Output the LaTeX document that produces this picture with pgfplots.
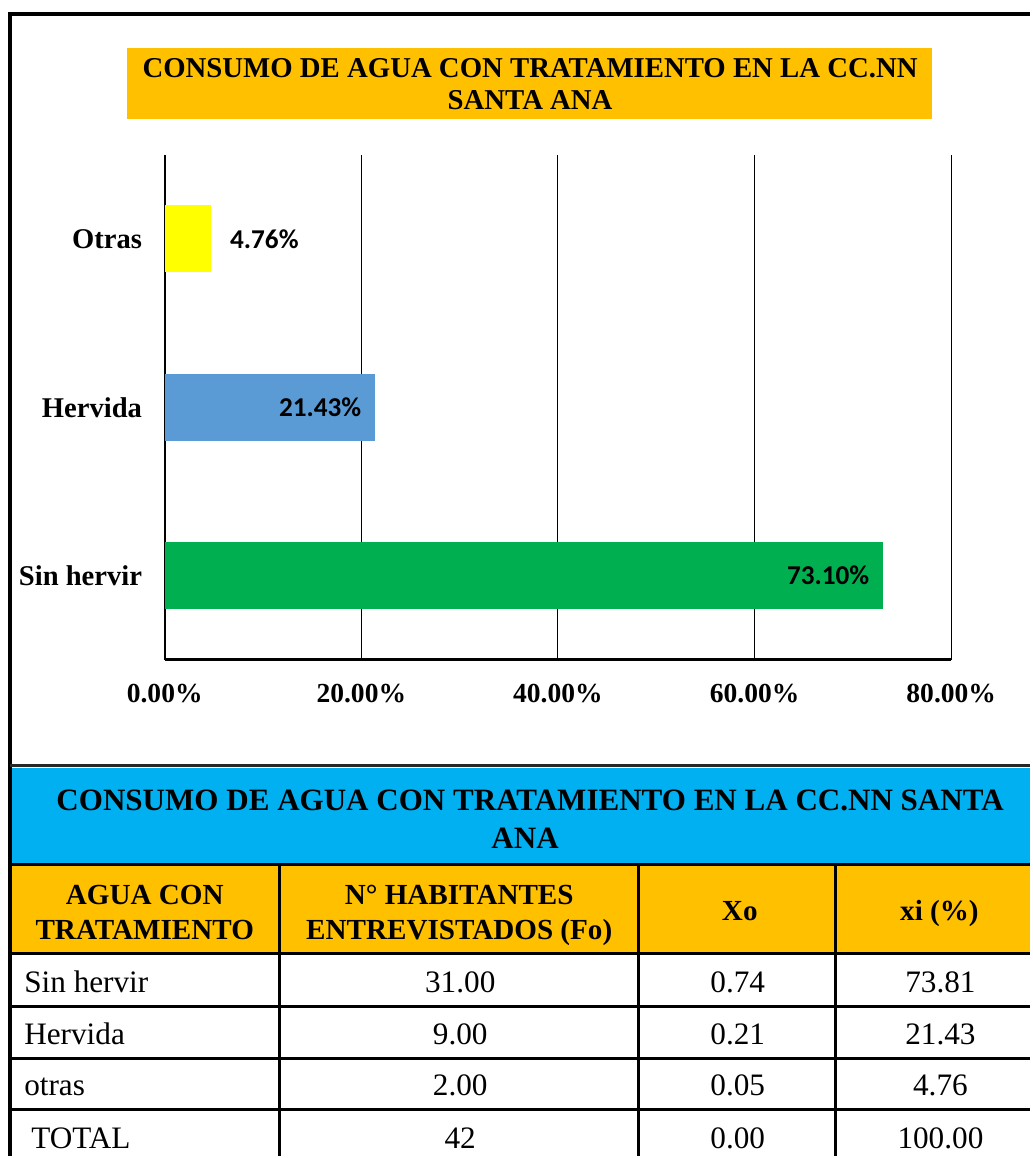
\documentclass[border=0pt]{standalone}
\usepackage{pgfplots}
\pgfplotsset{compat=1.18}
\usepackage{fontspec}
\setmainfont{Liberation Serif}
\newfontfamily\calibri{Carlito}
\definecolor{orng}{HTML}{FFC000}
\definecolor{cyanh}{HTML}{00B0F0}
\definecolor{yel}{HTML}{FFFF00}
\definecolor{blu}{HTML}{5B9BD5}
\definecolor{grn}{HTML}{00B050}
\begin{document}
\begin{tikzpicture}
\begin{scope}[x=0.02cm,y=-0.02cm]
\useasboundingbox (0,0) rectangle (1032,1158);
% chart title
\fill[orng] (127,48) rectangle (934,119);
\node[anchor=base,inner sep=0,font=\bfseries\fontsize{16.4}{18}\selectfont] at (531,78) {CONSUMO DE AGUA CON TRATAMIENTO EN LA CC.NN};
\node[anchor=base,inner sep=0,font=\bfseries\fontsize{16.4}{18}\selectfont] at (531,110) {SANTA ANA};
% table backgrounds
\fill[cyanh] (10,769) rectangle (1032,866);
\fill[orng] (10,866) rectangle (1032,955);
% table lines
\draw[line width=1.5pt] (10,866) -- (1032,866);
\foreach \yy in {955,1008,1060,1111} {\draw[line width=1.7pt] (10,\yy) -- (1032,\yy);}
\foreach \xx in {280,640,837} {\draw[line width=1.7pt] (\xx,866) -- (\xx,1158);}
% table texts
\node[anchor=base,inner sep=0,font=\bfseries\fontsize{17.7}{19}\selectfont] at (531,812) {CONSUMO DE AGUA CON TRATAMIENTO EN LA CC.NN SANTA};
\node[anchor=base,inner sep=0,font=\bfseries\fontsize{17.7}{19}\selectfont] at (526,850) {ANA};
\begin{scope}[every node/.style={anchor=base,inner sep=0,font=\bfseries\fontsize{16.6}{18}\selectfont}]
\node at (145,906) {AGUA CON};
\node at (145,941) {TRATAMIENTO};
\node at (460,906) {N° HABITANTES};
\node at (460,941) {ENTREVISTADOS (Fo)};
\node at (741,922) {Xo};
\node at (941,922) {xi (\%)};
\end{scope}
\begin{scope}[every node/.style={anchor=base,inner sep=0,font=\fontsize{17.8}{19}\selectfont}]
\node[anchor=base west] at (24,994) {Sin hervir};
\node[anchor=base west] at (24,1046) {Hervida};
\node[anchor=base west] at (24,1097) {otras};
\node[anchor=base west] at (31,1150) {TOTAL};
\node at (461,994) {31.00};
\node at (461,1046) {9.00};
\node at (461,1097) {2.00};
\node at (461,1150) {42};
\node at (739,994) {0.74};
\node at (739,1046) {0.21};
\node at (739,1097) {0.05};
\node at (739,1150) {0.00};
\node at (942,994) {73.81};
\node at (942,1046) {21.43};
\node at (942,1097) {4.76};
\node at (942,1150) {100.00};
\end{scope}
\end{scope}
\begin{axis}[
 at={(3.3cm,-13.22cm)}, anchor=south west,
 scale only axis, width=15.76cm, height=10.12cm,
 xbar, bar width=1.34cm, bar shift=0pt,
 xmin=0, xmax=80, ymin=-0.5, ymax=2.5,
 axis x line=bottom, axis y line=left, axis line style={-},
 x axis line style={line width=1.6pt},
 y axis line style={line width=1.1pt},
 xmajorgrids, grid style={black, line width=0.6pt},
 xtick={0,20,40,60,80}, xticklabels={0.00\%,20.00\%,40.00\%,60.00\%,80.00\%},
 ytick={0,1,2}, yticklabels={Sin hervir,Hervida,Otras},
 major tick length=0pt,
 xticklabel style={font=\bfseries\fontsize{15.7}{17}\selectfont, yshift=-0.36cm},
 yticklabel style={font=\bfseries\fontsize{16.3}{18}\selectfont, xshift=-0.33cm},
 point meta=x,
 nodes near coords={\pgfmathprintnumber[fixed,zerofill,precision=2,assume math mode=true]{\pgfplotspointmeta}\%},
 nodes near coords style={font=\calibri\bfseries\fontsize{15.5}{17}\selectfont, black},
 clip=false,
]
\addplot[fill=grn, draw=none, nodes near coords style={anchor=east, xshift=-0.16cm}] coordinates {(73.10,0)};
\addplot[fill=blu, draw=none, nodes near coords style={anchor=east, xshift=-0.16cm}] coordinates {(21.43,1)};
\addplot[fill=yel, draw=none, nodes near coords style={anchor=west, xshift=0.25cm}] coordinates {(4.76,2)};
\end{axis}
\begin{scope}[x=0.02cm,y=-0.02cm]
% outer frame
\draw[line width=2.2pt] (8,14) -- (1032,14);
\draw[line width=2.2pt] (10,12) -- (10,1158);
\draw[line width=1.7pt, black!85] (10,766.5) -- (1032,766.5);
\end{scope}
\end{tikzpicture}
\end{document}
